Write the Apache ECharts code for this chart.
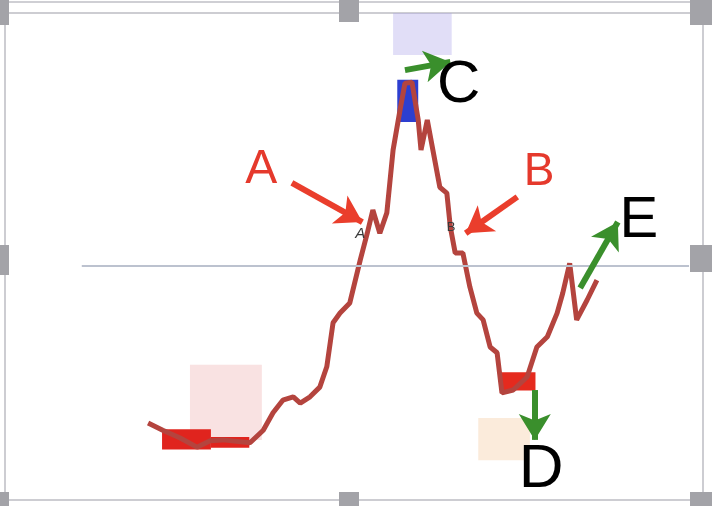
<!DOCTYPE html>
<html>
<head>
  <meta charset="UTF-8">
  <title>ABCDE</title>
  <script src="https://cdn.jsdelivr.net/npm/echarts@6/dist/echarts.min.js"></script>
  <style>
    html, body { margin: 0; padding: 0; background: #fff; }
    #main { width: 712px; height: 506px; }
  </style>
</head>
<body>
<div id="main"></div>
<script>
  // the price path, x = time, y = level (0..100 of the box)
  var times = [20.5, 22.6, 25.1, 27.5, 29.4, 31.2, 35.1, 37.0, 38.4, 39.8, 41.3, 42.3, 43.7, 45.1, 46.1, 47.0, 48.0, 49.4,
    50.9, 51.9, 52.7, 53.7, 54.7, 55.6, 56.6, 57.3, 58.3, 59.2, 59.6, 60.5, 61.3, 62.3, 63.3, 63.8, 64.5, 65.6, 66.6,
    67.6, 68.5, 69.5, 70.5, 71.2, 72.8, 74.8, 76.2, 77.7, 79.1, 79.9, 80.9, 81.9, 83.4, 84.8];
  var levels = [15.3, 13.8, 12.2, 10.3, 11.6, 11.8, 11.2, 13.8, 17.4, 20.0, 20.7, 19.4, 20.7, 22.7, 26.9, 36.0, 38.0, 40.1,
    49.0, 54.5, 59.3, 54.5, 58.7, 71.7, 80.0, 85.5, 85.7, 77.9, 71.7, 77.9, 71.7, 64.0, 62.8, 55.8, 50.4, 50.4, 43.4,
    38.0, 36.6, 31.0, 29.8, 21.5, 22.1, 24.8, 31.0, 33.1, 38.0, 42.1, 48.3, 36.6, 40.7, 44.8];
  var refLevel = 47.7;

  var letters = ['A', 'B', 'C', 'D', 'E'];
  var letterPos = [[36.7, 67.6], [76.5, 67.1], [65.0, 85.1], [76.8, 5.6], [90.8, 57.0]];
  var letterColor = ['#e5392c', '#e5392c', '#000', '#000', '#000'];
  var letterSize = [48, 46, 60, 62, 58];

  var arrowFrom = [[41.1, 64.9], [73.4, 62.0], [57.3, 88.2], [75.9, 22.1], [82.4, 43.2]];
  var arrowTo = [[51.2, 56.8], [66.0, 54.5], [63.8, 89.9], [75.9, 11.8], [87.8, 56.8]];
  var arrowColor = ['#ea3e2c', '#ea3e2c', '#3a8f2c', '#3a8f2c', '#3a8f2c'];

  var series = times.map(function (t, i) { return [t, levels[i]]; });

  function $(dom) {
    return document.querySelector(dom)
  }

  var chart = echarts.init($('#main'));

  var handles = [[0, 0, 9, 25], [339, 0, 20, 22], [690, 0, 22, 25], [0, 245, 9, 30], [690, 245, 22, 27],
    [0, 492, 9, 14], [339, 492, 20, 14], [690, 492, 22, 14]];

  function letterLabel(text, size, color, extra) {
    return Object.assign({
      show: true, position: 'inside', formatter: text,
      fontFamily: 'Liberation Sans', fontSize: size, color: color,
      textBorderWidth: 0, textShadowBlur: 0, opacity: 1
    }, extra || {});
  }

  chart.setOption({
    animation: false,
    grid: { left: 5, right: 9, top: 13, bottom: 9, show: false },
    xAxis: { type: 'value', min: 0, max: 100, show: false },
    yAxis: { type: 'value', min: 0, max: 100, show: false },
    graphic: [
      { type: 'line', shape: { x1: 0, y1: 2, x2: 712, y2: 2 }, style: { stroke: '#cfcfd4', lineWidth: 2 } },
      { type: 'rect', shape: { x: 5, y: 13, width: 698, height: 487 }, style: { fill: null, stroke: '#cdcdd2', lineWidth: 2 } }
    ].concat(handles.map(function (h) {
      return { type: 'rect', shape: { x: h[0], y: h[1], width: h[2], height: h[3] }, style: { fill: '#a3a3a8' }, z: 10 };
    })),
    series: [
      {
        type: 'line',
        data: series,
        showSymbol: false,
        z: 3,
        lineStyle: { color: '#b4443e', width: 5 },
        markLine: {
          silent: true,
          symbol: 'none',
          label: { show: false },
          lineStyle: { color: '#bcc2cf', width: 2, type: 'solid' },
          data: [[{ coord: [11, refLevel] }, { coord: [98, refLevel] }]]
        },
        markArea: {
          silent: true,
          data: [
            [{ coord: [26.5, 11.8], itemStyle: { color: 'rgba(232,150,150,0.28)' } }, { coord: [36.8, 27.3] }],
            [{ coord: [55.6, 91.3], itemStyle: { color: 'rgba(170,160,232,0.35)' } }, { coord: [64.0, 100] }],
            [{ coord: [67.8, 7.6], itemStyle: { color: 'rgba(245,205,165,0.4)' } }, { coord: [75.2, 16.3] }],
            [{ coord: [22.5, 9.8], itemStyle: { color: '#e0241e' } }, { coord: [29.5, 14.0] }],
            [{ coord: [29.5, 10.2], itemStyle: { color: '#e0241e' } }, { coord: [35.0, 12.4] }],
            [{ coord: [56.2, 77.5], itemStyle: { color: '#2d3fd0' } }, { coord: [59.2, 86.2] }],
            [{ coord: [70.9, 22.0], itemStyle: { color: '#e52a1e' } }, { coord: [76.0, 25.8] }]
          ]
        }
      },
      {
        type: 'line',
        data: [],
        markLine: {
          silent: true,
          symbol: ['none', 'arrow'],
          symbolSize: [24, 26],
          label: { show: false },
          data: arrowFrom.map(function (f, i) {
            return [{ coord: f, lineStyle: { color: arrowColor[i], width: 6, type: 'solid', opacity: 1 } }, { coord: arrowTo[i] }];
          })
        }
      },
      {
        type: 'scatter',
        symbolSize: 1,
        itemStyle: { color: 'transparent' },
        z: 5,
        data: letters.map(function (l, i) {
          return { value: letterPos[i], label: letterLabel(l, letterSize[i], letterColor[i]) };
        }).concat([
          { value: [50.9, 54.3], label: letterLabel('A', 15, '#3a3a3a', { fontStyle: 'italic' }) },
          { value: [63.9, 55.8], label: letterLabel('B', 13, '#3a3a3a') }
        ])
      }
    ]
  });
</script>
</body>
</html>
